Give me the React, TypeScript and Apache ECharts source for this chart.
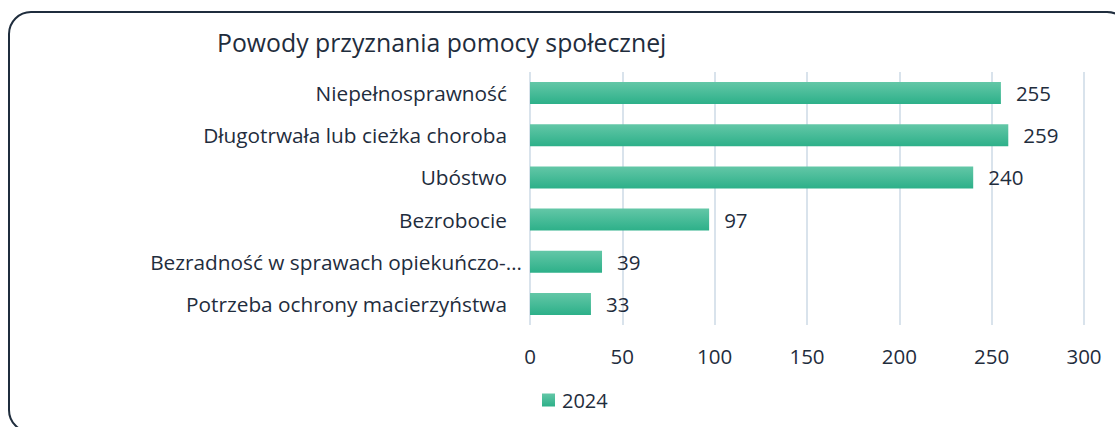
import React, { useEffect, useRef } from "react";
import * as echarts from "echarts";

const categories = [
  "Niepełnosprawność",
  "Długotrwała lub cieżka choroba",
  "Ubóstwo",
  "Bezrobocie",
  "Bezradność w sprawach opiekuńczo-…",
  "Potrzeba ochrony macierzyństwa",
];
const values2024 = [255, 259, 240, 97, 39, 33];
const seriesName = "2024";
const titleText = "Powody przyznania pomocy społecznej";

const FONT = "'Open Sans', sans-serif";
const TXT = "#1f2d3d";

export default function App() {
  const ref = useRef<HTMLDivElement>(null);
  useEffect(() => {
    document.body.style.margin = "0";
    const chart = echarts.init(ref.current!, null, { renderer: "svg" });
    const grad = new echarts.graphic.LinearGradient(0, 0, 0, 1, [
      { offset: 0, color: "#63c7a7" },
      { offset: 1, color: "#2db089" },
    ]);
    chart.setOption({
      animation: false,
      textStyle: { fontFamily: FONT, color: TXT },
      title: {
        text: titleText,
        left: 212,
        top: 24,
        textStyle: { fontFamily: FONT, fontSize: 24.8, fontWeight: "normal", color: TXT },
      },
      graphic: [
        {
          type: "rect",
          shape: { x: 9, y: 12, width: 1120, height: 420, r: 22 },
          style: { fill: "none", stroke: "#1f2d3d", lineWidth: 2 },
          silent: true,
        },
      ],
      legend: {
        data: [seriesName],
        icon: "rect",
        left: 537,
        top: 385,
        itemWidth: 13,
        itemHeight: 13,
        itemGap: 6,
        textStyle: { fontFamily: FONT, fontSize: 20, color: TXT, padding: [0, 0, 0, 2] },
      },
      grid: { left: 530, right: 31, top: 72, bottom: 102, containLabel: false },
      xAxis: {
        type: "value",
        min: 0,
        max: 300,
        interval: 50,
        axisLine: { show: false },
        axisTick: { show: false },
        axisLabel: { fontFamily: FONT, fontSize: 20.5, color: TXT, margin: 20 },
        splitLine: { lineStyle: { color: "#d9e3ec", width: 2 } },
      },
      yAxis: {
        type: "category",
        data: categories,
        inverse: true,
        axisLine: { show: false },
        axisTick: { show: false },
        axisLabel: {
          fontFamily: FONT,
          fontSize: 20.8,
          color: TXT,
          margin: 23,
          formatter: (v: string) => (v.endsWith("…") ? `{o|${v}}` : v),
          rich: {
            o: { fontFamily: FONT, fontSize: 20.8, color: TXT, padding: [0, -15, 0, 0] },
          },
        },
      },
      series: [
        {
          name: seriesName,
          type: "bar",
          data: values2024,
          barWidth: "52%",
          itemStyle: { color: grad },
          label: {
            show: true,
            position: "right",
            distance: 15,
            fontFamily: FONT,
            fontSize: 20.5,
            color: TXT,
          },
        },
      ],
    });
    return () => chart.dispose();
  }, []);
  return <div ref={ref} style={{ width: 1115, height: 427 }} />;
}
